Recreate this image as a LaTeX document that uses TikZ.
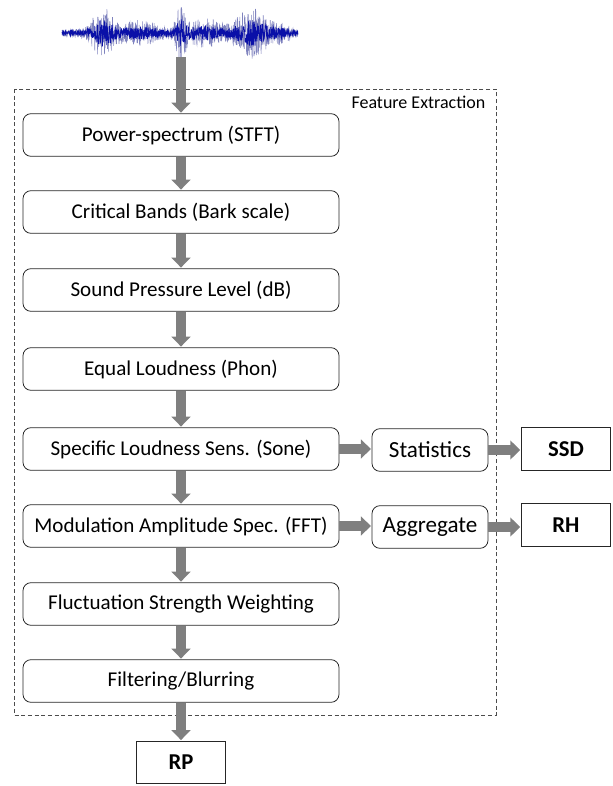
\documentclass[tikz,border=0pt]{standalone}
\usepackage{fontspec}
\setmainfont{Carlito}
\usetikzlibrary{arrows.meta}

\definecolor{fatgray}{HTML}{7F7F7F}
\definecolor{wavedark}{HTML}{0A10A8}
\definecolor{wavelight}{HTML}{7F83BE}

\tikzset{%
  stepbox/.style={draw=black!85,rounded corners=6pt,line width=.6pt,%
    minimum width=237pt,minimum height=32pt,font=\fontsize{15.8}{18}\selectfont},%
  sidebox/.style={draw=black!85,rounded corners=6pt,line width=.6pt,%
    minimum width=87pt,minimum height=32pt,font=\fontsize{17.3}{20}\selectfont},%
  outbox/.style={draw=black!85,line width=.6pt,%
    minimum width=67pt,minimum height=32pt,font=\fontsize{17}{20}\selectfont\bfseries},%
  fat/.style={draw=fatgray,line width=7pt,%
    -{Triangle[width=14pt,length=7.5pt]},shorten >=.5pt},%
}

\begin{document}
\begin{tikzpicture}[x=.75pt,y=-.75pt,%
  declare function={amp(\t)=3+19*exp(-((\t-103)/12)^2)+8*exp(-((\t-140)/22)^2)%
    +20*exp(-((\t-181)/6)^2)+10*exp(-((\t-205)/18)^2)+19*exp(-((\t-252)/18)^2)%
    +6*exp(-((\t-282)/9)^2);}]%
  \useasboundingbox (0,0) rectangle (612,786);%
  % waveform
  \pgfmathsetseed{4711}%
  \draw[wavelight,line width=.4pt] plot[domain=62:298,samples=800]%
    (\x,{33+1.2*amp(\x)*(2*rnd-1)});%
  \draw[wavedark,line width=.5pt] plot[domain=62:298,samples=900]%
    (\x,{33+0.6*amp(\x)*(2*rnd-1)});%
  \coordinate (wave) at (181,57);%
  % feature extraction frame
  \draw[black!70,dashed,line width=.6pt,dash pattern=on 3pt off 2pt]%
    (14,89) rectangle (496,715);%
  \node[anchor=east,font=\fontsize{13.5}{16}\selectfont] (fetitle)%
    at (490,102) {Feature Extraction};%
  % processing steps
  \foreach \nm/\y/\txt in {%
      pow/135/{Power-spectrum (STFT)},%
      bark/212/{Critical Bands (Bark scale)},%
      spl/290/{Sound Pressure Level (dB)},%
      phon/369/{Equal Loudness (Phon)},%
      sone/449/{Specific Loudness Sens. (Sone)},%
      mod/526/{Modulation Amplitude Spec. (FFT)},%
      fluct/604/{Fluctuation Strength Weighting},%
      blur/681/{Filtering/Blurring}%
    }{%
      \node[stepbox] (\nm) at (181,\y) {\txt};%
    };%
  \node[sidebox] (stat) at (430,450) {Statistics};%
  \node[sidebox] (aggr) at (430,527) {Aggregate};%
  \node[outbox] (ssd) at (566,449) {SSD};%
  \node[outbox] (rh) at (566,525) {RH};%
  \node[outbox] (rp) at (181,762.5) {RP};%
  % connectors
  \draw[fat] (wave) -- (pow.north);%
  \foreach \a/\b in {pow/bark,bark/spl,spl/phon,phon/sone,sone/mod,mod/fluct,%
      fluct/blur,blur/rp}{%
    \draw[fat] (\a.south) -- (\b.north);%
  };%
  \draw[fat] (sone.east) -- (sone.east-|stat.west);%
  \draw[fat] (stat.east) -- (stat.east-|ssd.west);%
  \draw[fat] (mod.east) -- (mod.east-|aggr.west);%
  \draw[fat] (aggr.east) -- (aggr.east-|rh.west);%
\end{tikzpicture}
\end{document}
